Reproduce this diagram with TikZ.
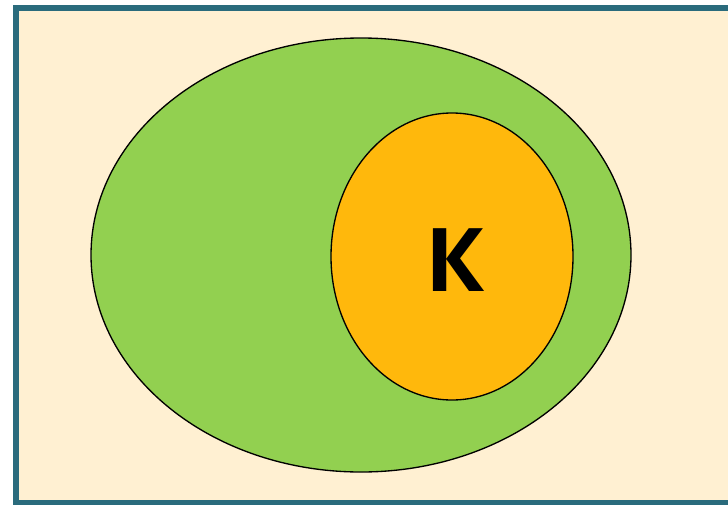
\documentclass[tikz,border=0pt]{standalone}
\usepackage{fontspec}
\newfontfamily\letterfont{Open Sans}
\usepackage{tikz}
\usetikzlibrary{shapes.geometric}
\definecolor{frameblue}{HTML}{2A6B7C}
\definecolor{paper}{HTML}{FFF0D2}
\definecolor{setgreen}{HTML}{92D050}
\definecolor{setorange}{HTML}{FFB80C}

\begin{document}
\begin{tikzpicture}[
  x=0.75pt, y=-0.75pt,
  frame/.style={draw=frameblue, line width=4pt, fill=paper},
  region/.style={draw=black, line width=1pt}
]
\useasboundingbox (0,0) rectangle (728,504);
\draw[frame] (16,8) rectangle (740,503);

\draw[region, fill=setgreen] (361,255) ellipse [x radius=270, y radius=217];
\node[region, fill=setorange, ellipse, minimum width=242*0.75pt, minimum height=287*0.75pt, inner sep=0pt] (inner) at (452,256.5) {};
\node[font=\letterfont\bfseries\fontsize{66}{66}\selectfont, inner sep=0pt] (label) at (455,260) {К};
\end{tikzpicture}
\end{document}
